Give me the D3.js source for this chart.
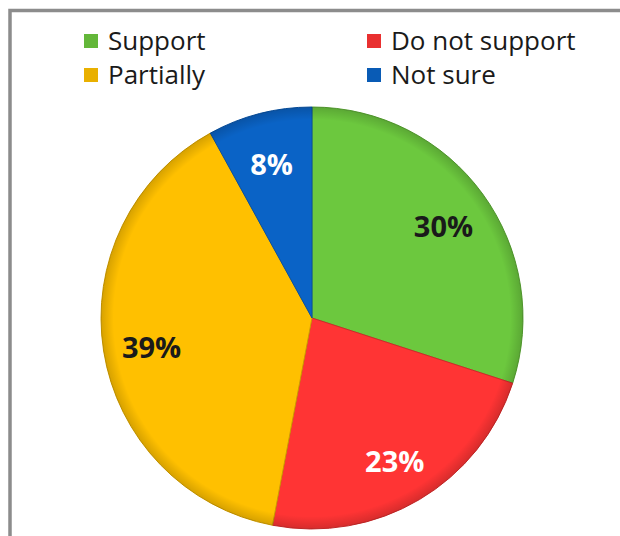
<!DOCTYPE html>
<html>
<head>
<meta charset="utf-8">
<script src="https://cdn.jsdelivr.net/npm/d3@7"></script>
<style>
  html, body { margin: 0; padding: 0; background: #fff; }
  svg { display: block; }
  text { font-family: "Open Sans", "DejaVu Sans", sans-serif; }
</style>
</head>
<body>
<svg id="chart" width="620" height="536"></svg>
<script>
// Survey answers, in clockwise order from 12 o'clock
const categories = ["Support", "Do not support", "Partially", "Not sure"];
const shares = [30, 23, 39, 8];
const sliceColors = ["#6cc83e", "#ff3434", "#ffc000", "#0a63c6"];
const labelColors = ["#1a1a1a", "#ffffff", "#1a1a1a", "#ffffff"];
const legendOrder = ["Support", "Do not support", "Partially", "Not sure"];

const svg = d3.select("#chart");
const cx = 312, cy = 318, radius = 211;

// Outer frame (continues past the right and bottom edges)
svg.append("rect")
  .attr("x", 10).attr("y", 10.5)
  .attr("width", 640).attr("height", 560)
  .attr("fill", "#fff")
  .attr("stroke", "#8c8c8c")
  .attr("stroke-width", 3.5);

const color = d3.scaleOrdinal().domain(categories).range(sliceColors);
const labelColor = d3.scaleOrdinal().domain(categories).range(labelColors);

const data = categories.map((c, i) => ({ category: c, value: shares[i] }));

const pie = d3.pie().value(d => d.value).sort(null);
const arc = d3.arc().innerRadius(0).outerRadius(radius);
const labelArc = d3.arc().innerRadius(radius * 0.77).outerRadius(radius * 0.77);

const defs = svg.append("defs");
// Soft darkening toward the rim, giving the slices a slight bevel
const rim = defs.append("radialGradient")
  .attr("id", "rim")
  .attr("gradientUnits", "userSpaceOnUse")
  .attr("cx", 0).attr("cy", 0).attr("r", radius);
rim.append("stop").attr("offset", "0.94").attr("stop-color", "#000").attr("stop-opacity", 0);
rim.append("stop").attr("offset", "1").attr("stop-color", "#000").attr("stop-opacity", 0.16);

const g = svg.append("g").attr("transform", `translate(${cx},${cy})`);
const arcs = pie(data);

g.selectAll("path.slice")
  .data(arcs)
  .join("path")
  .attr("class", "slice")
  .attr("d", arc)
  .attr("fill", d => color(d.data.category))
  .attr("stroke", d => d3.color(color(d.data.category)).darker(0.6))
  .attr("stroke-width", 1);

g.selectAll("path.rim")
  .data(arcs)
  .join("path")
  .attr("class", "rim")
  .attr("d", arc)
  .attr("fill", "url(#rim)");

g.selectAll("text.pct")
  .data(arcs)
  .join("text")
  .attr("class", "pct")
  .attr("transform", d => `translate(${labelArc.centroid(d)})`)
  .attr("text-anchor", "middle")
  .attr("dy", "0.5em")
  .attr("font-size", 29)
  .attr("font-weight", "bold")
  .attr("fill", d => labelColor(d.data.category))
  .text(d => d3.format(".0f")(d.data.value) + "%");

// Legend: two columns, two rows
const legendX = d3.scaleOrdinal().domain([0, 1]).range([84, 367]);
const legendY = d3.scaleOrdinal().domain([0, 1]).range([41, 75]);

const legend = svg.append("g")
  .selectAll("g")
  .data(legendOrder)
  .join("g")
  .attr("transform", (d, i) => `translate(${legendX(i % 2)},${legendY(Math.floor(i / 2))})`);

legend.append("rect")
  .attr("x", 0).attr("y", -7)
  .attr("width", 14).attr("height", 14)
  .attr("fill", d => d3.color(color(d)).darker(0.25));

legend.append("text")
  .attr("x", 24).attr("y", 0)
  .attr("dy", "0.36em")
  .attr("font-size", 26)
  .attr("fill", "#1a1a1a")
  .text(d => d);
</script>
</body>
</html>
